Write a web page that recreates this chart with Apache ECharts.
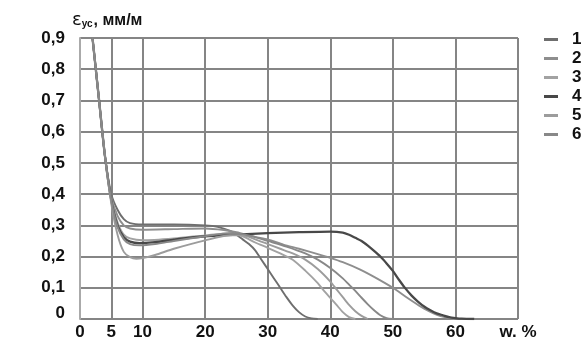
<!DOCTYPE html>
<html><head><meta charset="utf-8">
<script src="https://cdn.jsdelivr.net/npm/echarts@6/dist/echarts.min.js"></script>
<style>html,body{margin:0;padding:0;background:#fff}#c{width:583px;height:341px}</style>
</head><body><div id="c"></div>
<script>
const seriesNames = ['1','2','3','4','5','6'];
const seriesColors = ['#6e6e6e','#8e8e8e','#a2a2a2','#484848','#9c9c9c','#888888'];
const xTicks = [0,5,10,20,30,40,50,60];
const xUnit = 'w. %';
const yTicks = [0,0.1,0.2,0.3,0.4,0.5,0.6,0.7,0.8,0.9];

const curve1 = [[2,0.9],[3,0.71],[4,0.52],[5,0.40],[6,0.35],[7,0.32],[8,0.307],[10,0.303],[15,0.303],[20,0.30],[22,0.295],[24,0.282],[25,0.27],[26,0.255],[27,0.24],[28,0.22],[29,0.19],[30,0.16],[31,0.13],[32,0.1],[33,0.07],[34,0.043],[35,0.022],[36,0.008],[37,0.002],[38,0]];
const curve2 = [[2,0.9],[3,0.71],[4,0.52],[5,0.39],[6,0.33],[7,0.30],[8,0.29],[10,0.286],[15,0.288],[20,0.29],[23,0.285],[25,0.278],[28,0.263],[30,0.255],[32.5,0.238],[35,0.225],[38,0.208],[40,0.196],[42,0.182],[44.7,0.159],[47,0.135],[50,0.1],[52,0.072],[53.8,0.048],[55,0.033],[56.5,0.018],[57.5,0.01],[59,0.003],[60,0]];
const curve3 = [[2,0.9],[3,0.71],[4,0.52],[5,0.385],[6,0.31],[7,0.27],[8,0.258],[10,0.252],[15,0.258],[20,0.268],[24,0.275],[26,0.265],[28,0.245],[30,0.228],[32,0.21],[34,0.19],[36,0.155],[38,0.115],[39,0.09],[40,0.068],[41,0.045],[42,0.022],[43,0.006],[44,0]];
const curve4 = [[2,0.9],[3,0.71],[4,0.52],[5,0.38],[6,0.30],[7,0.262],[8,0.248],[9.5,0.243],[12,0.246],[15,0.254],[20,0.265],[25,0.27],[30,0.275],[35,0.278],[40,0.28],[42,0.277],[43,0.27],[44,0.26],[45,0.25],[46,0.235],[47,0.218],[48,0.2],[49,0.178],[50,0.154],[51,0.125],[52,0.098],[53,0.075],[54,0.056],[55,0.04],[56,0.028],[57,0.018],[58,0.012],[59,0.006],[60,0.003],[61,0.001],[63,0]];
const curve5 = [[2,0.9],[3,0.71],[4,0.52],[5,0.37],[6,0.27],[7,0.215],[8,0.198],[9,0.193],[10,0.195],[12,0.205],[15,0.225],[20,0.252],[24,0.268],[26,0.268],[28,0.255],[30,0.24],[32,0.225],[34,0.21],[36,0.19],[38,0.16],[40,0.12],[41,0.095],[42,0.07],[43,0.045],[44,0.025],[45,0.01],[46,0]];
const curve6 = [[2,0.9],[3,0.71],[4,0.52],[5,0.38],[6,0.295],[7,0.255],[8,0.24],[9.5,0.236],[12,0.24],[15,0.25],[20,0.265],[24,0.275],[26,0.272],[28,0.262],[30,0.25],[33,0.232],[36,0.21],[38,0.19],[40,0.163],[42,0.13],[43,0.11],[44,0.09],[45,0.068],[46,0.047],[47,0.028],[48,0.012],[49,0.003],[50,0]];
const curves = [curve1,curve2,curve3,curve4,curve5,curve6];

const FONT = '"Liberation Sans Narrow", "Liberation Sans", Arial, sans-serif';
const GRID = '#858585';
const chart = echarts.init(document.getElementById('c'), null, {renderer:'canvas'});

const series = curves.map((c,i)=>({
  name: seriesNames[i], type:'line', data:c, smooth:0.25,
  showSymbol:false, symbol:'none', clip:true,
  lineStyle:{color:seriesColors[i], width:i===3?2.3:1.9},
  itemStyle:{color:seriesColors[i]}, z:3
}));
series[0].markLine = {silent:true, symbol:'none', label:{show:false},
  lineStyle:{color:GRID, width:2, type:'solid'}, data:[{xAxis:xTicks[1]}], z:1};

chart.setOption({
  animation:false,
  backgroundColor:'#fff',
  grid:{left:80, right:65, top:38, bottom:19},
  title:{left:72, top:5, padding:0, text:'{e|ε}{s|ус}{u|, мм/м}',
    textStyle:{fontWeight:'normal', rich:{
      e:{fontFamily:'"DejaVu Sans", sans-serif', fontSize:18, fontWeight:'normal', color:'#111', verticalAlign:'bottom', lineHeight:24},
      s:{fontFamily:'"Liberation Sans", Arial, sans-serif', fontSize:10, fontWeight:'bold', color:'#111', verticalAlign:'bottom', lineHeight:24, padding:[0,1,0,0]},
      u:{fontFamily:'"Liberation Sans", Arial, sans-serif', fontSize:16, fontWeight:'bold', color:'#111', verticalAlign:'bottom', lineHeight:24}}}},
  legend:{orient:'vertical', left:544, top:31, padding:0, itemWidth:14, itemHeight:3, itemGap:2,
    icon:'rect', data:seriesNames,
    textStyle:{fontFamily:FONT, fontWeight:'bold', fontSize:17, color:'#111', lineHeight:17, padding:[0,0,0,9]}},
  xAxis:[{type:'value', min:0, max:70, interval:10, position:'bottom',
    axisLine:{show:false}, axisTick:{show:false},
    splitLine:{show:true, lineStyle:{color:GRID, width:2}},
    axisLabel:{fontFamily:FONT, fontWeight:'bold', fontSize:17, color:'#111', margin:5,
      showMaxLabel:true, showMinLabel:true,
      formatter:v=> v===70 ? xUnit : (xTicks.indexOf(v)>=0 ? String(v) : '')}},
   {type:'value', min:0, max:70, interval:5, position:'bottom',
    axisLine:{show:false}, axisTick:{show:false}, splitLine:{show:false},
    axisLabel:{fontFamily:FONT, fontWeight:'bold', fontSize:17, color:'#111', margin:5,
      formatter:v=> v===xTicks[1] ? String(v) : ''}}],
  yAxis:{type:'value', min:0, max:0.9, interval:0.1,
    axisLine:{show:true, lineStyle:{color:'#aaa', width:2}}, axisTick:{show:false},
    splitLine:{show:true, lineStyle:{color:GRID, width:2}},
    axisLabel:{fontFamily:FONT, fontWeight:'bold', fontSize:17, color:'#111', margin:15,
      formatter:v=>{const i=yTicks.findIndex(t=>Math.abs(t-v)<1e-9); const s=(i>=0?yTicks[i]:v).toFixed(1).replace('.',','); return v===0?'{z|0}':s;},
      rich:{z:{fontFamily:FONT, fontWeight:'bold', fontSize:17, color:'#111', padding:[0,0,12,0]}}}},
  series
});
</script></body></html>
